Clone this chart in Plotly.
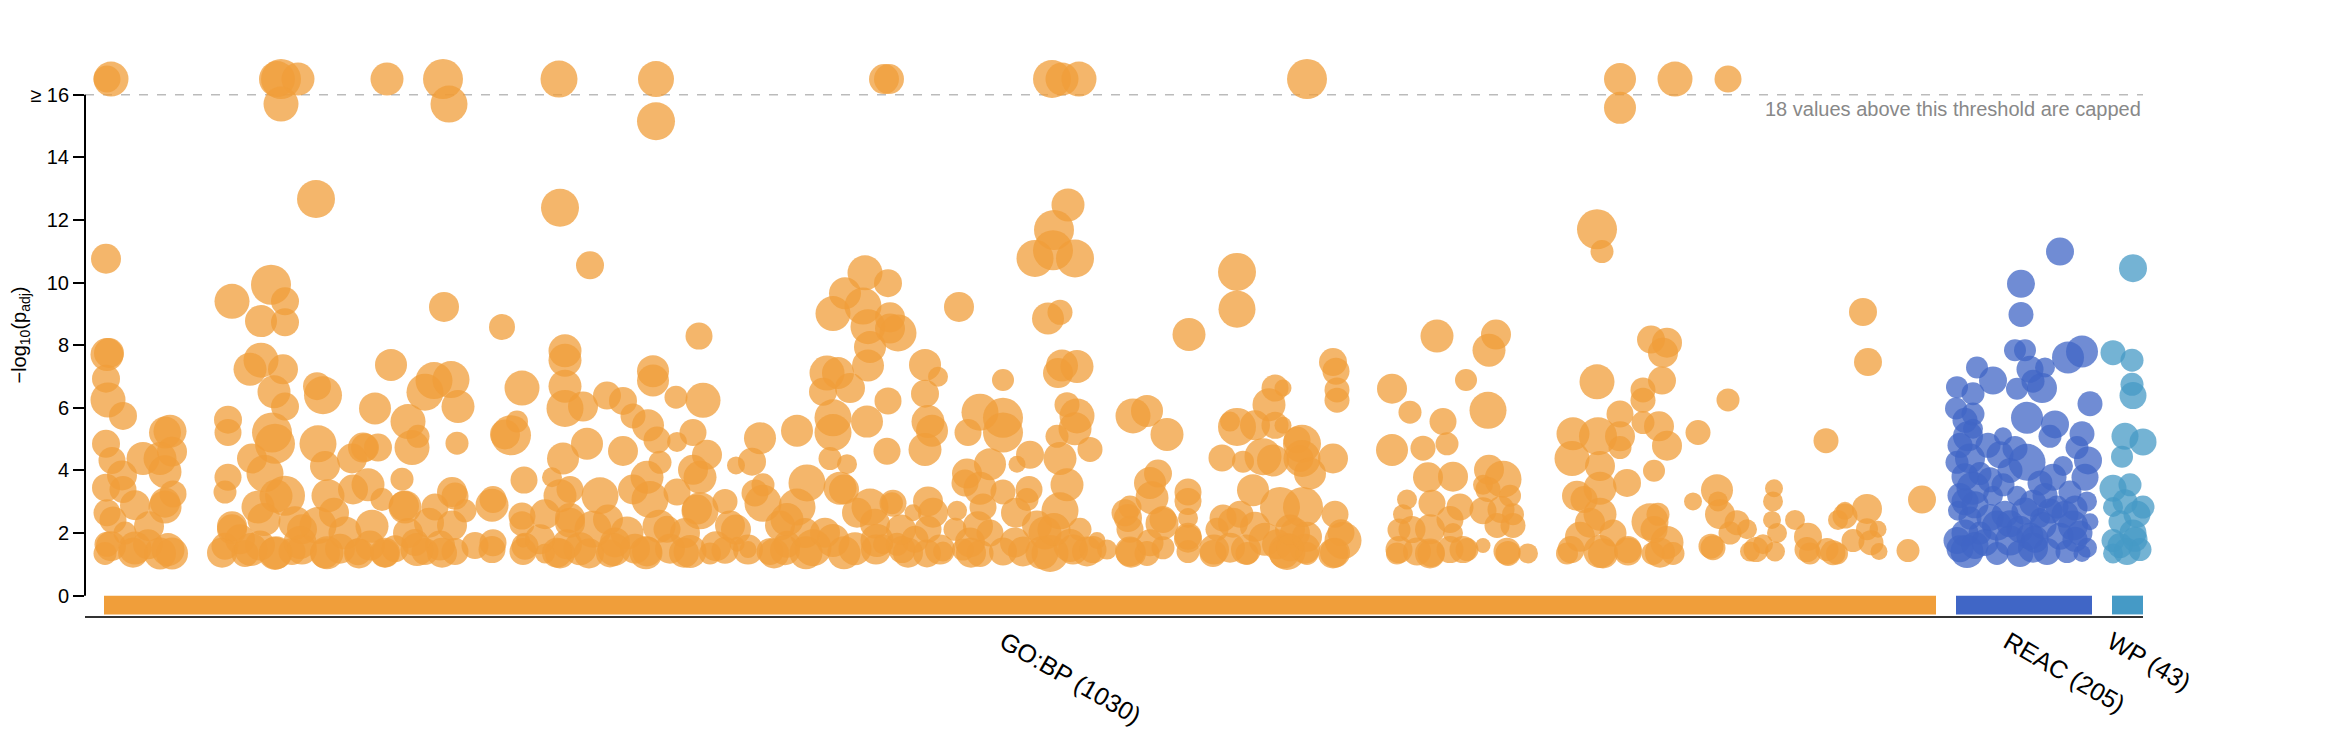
import plotly.graph_objects as go

# sources shown on the x axis, with the number of significant terms
sources = ['GO:BP', 'REAC', 'WP']
term_counts = [1030, 205, 43]
source_spans = [(19, 1851), (1871, 2007), (2027, 2058)]
source_colors = ['#f09e3a', '#4066c6', '#459ac6']

cap = 16  # -log10(p_adj) values above this are drawn at the top

# (term position, -log10(p_adj), term size) ; 16.5 = capped value
gobp_points = [
    (22, 16.5, 27), (26, 16.5, 35), (192, 16.5, 36), (196, 16.5, 40), (213, 16.5, 33), (196, 15.7, 35),
    (302, 16.5, 33), (358, 16.5, 40), (364, 15.7, 37), (231, 12.67, 38), (21, 10.76, 30), (147, 9.4, 35),
    (186, 9.93, 40), (200, 9.4, 28), (176, 8.77, 32), (200, 8.73, 28), (359, 9.22, 30), (417, 8.58, 26),
    (22, 7.7, 33), (24, 7.75, 30), (21, 6.93, 28), (23, 6.25, 35), (38, 5.74, 28), (306, 7.37, 32),
    (349, 6.87, 37), (340, 6.5, 37), (366, 6.9, 37), (373, 6.04, 33), (372, 4.87, 23), (290, 5.98, 32),
    (323, 5.56, 35), (327, 4.73, 35), (280, 4.73, 28), (232, 6.69, 28), (238, 6.4, 38), (176, 7.52, 35),
    (165, 7.23, 33), (198, 7.23, 30), (189, 6.51, 33), (200, 6.04, 28), (143, 5.62, 28), (143, 5.21, 27),
    (187, 5.21, 40), (190, 4.85, 40), (233, 4.85, 37), (80, 5.21, 32), (85, 5.25, 33), (87, 4.6, 30),
    (75, 4.38, 33), (58, 4.38, 33), (21, 4.85, 28), (27, 4.32, 27), (37, 3.84, 30), (21, 3.45, 28),
    (80, 3.96, 33), (88, 3.25, 27), (80, 2.83, 33), (50, 2.89, 30), (28, 2.42, 27), (22, 1.64, 25),
    (20, 1.35, 23), (50, 1.52, 33), (63, 1.64, 30), (75, 1.35, 32), (87, 1.35, 32), (40, 2.0, 23),
    (143, 3.78, 27), (140, 3.31, 23), (167, 4.38, 30), (180, 3.9, 37), (200, 3.19, 40), (173, 2.83, 33),
    (147, 2.12, 30), (140, 1.58, 27), (160, 1.35, 27), (190, 1.35, 33), (207, 1.41, 27), (217, 2.12, 30),
    (240, 4.14, 30), (243, 3.19, 33), (233, 2.24, 37), (240, 1.35, 30), (260, 2.0, 33), (267, 4.38, 30),
    (278, 4.73, 30), (293, 4.73, 28), (283, 3.54, 33), (273, 1.4, 27), (300, 1.35, 28), (297, 3.07, 23),
    (317, 3.72, 23), (320, 2.83, 33), (323, 2.0, 30), (340, 1.41, 27), (350, 2.83, 27), (367, 3.31, 30),
    (367, 2.24, 30), (370, 1.41, 27), (380, 2.71, 23), (407, 2.89, 33), (407, 1.47, 27), (420, 5.15, 30),
    (333, 5.09, 23), (155, 1.8, 30), (175, 1.6, 30), (215, 1.7, 33), (255, 1.5, 30), (285, 1.6, 30),
    (310, 1.5, 27), (330, 1.7, 27), (355, 1.6, 30), (390, 1.6, 27),
    (26, 1.58, 30), (48, 1.37, 30), (83, 1.47, 33), (22, 2.65, 27), (80, 2.97, 30), (38, 3.39, 27),
    (64, 2.22, 30), (137, 1.37, 30), (166, 1.47, 33), (191, 1.37, 33), (217, 1.47, 30), (242, 1.37, 33),
    (274, 1.35, 30), (300, 1.37, 30), (332, 1.47, 33), (357, 1.37, 30), (147, 2.22, 30), (179, 2.43, 33),
    (210, 2.33, 33), (249, 2.65, 30), (287, 2.22, 33), (319, 2.86, 30), (344, 2.33, 30), (370, 3.18, 27),
    (191, 3.18, 33), (268, 3.39, 30), (408, 1.69, 27), (440, 1.58, 27), (437, 2.54, 27), (408, 3.07, 27),
    (474, 16.5, 37), (571, 16.5, 36), (571, 15.15, 38), (799, 16.5, 30), (804, 16.5, 30), (475, 12.39, 38),
    (505, 10.55, 28), (614, 8.29, 27), (437, 6.63, 35), (480, 7.82, 33), (480, 7.52, 33), (480, 6.69, 33),
    (480, 5.98, 37), (498, 6.04, 30), (522, 6.39, 28), (538, 6.22, 28), (568, 7.17, 32), (568, 6.87, 32),
    (591, 6.34, 23), (618, 6.24, 35), (432, 5.56, 22), (426, 5.12, 40), (548, 5.74, 25), (563, 5.44, 32),
    (608, 5.21, 27), (592, 4.91, 20), (572, 4.97, 27), (538, 4.62, 30), (502, 4.85, 32), (478, 4.38, 32),
    (622, 4.5, 30), (615, 3.78, 33), (675, 5.03, 32), (667, 4.28, 28), (651, 4.16, 18), (712, 5.27, 32),
    (748, 5.68, 37), (742, 7.11, 35), (753, 7.11, 32), (738, 6.51, 28), (765, 6.63, 30), (748, 9.01, 35),
    (760, 9.66, 32), (780, 10.31, 35), (803, 9.98, 28), (778, 9.25, 37), (783, 8.59, 35), (785, 7.94, 32),
    (783, 7.35, 32), (805, 8.53, 30), (803, 6.22, 27), (782, 5.56, 32), (748, 5.21, 37), (802, 4.61, 27),
    (745, 4.38, 23), (762, 4.2, 20), (722, 3.6, 37), (755, 3.43, 33), (785, 2.83, 37), (808, 2.95, 27),
    (812, 1.64, 23), (792, 1.76, 33), (728, 1.53, 37), (748, 1.76, 33), (712, 2.83, 37), (685, 1.41, 27),
    (678, 2.95, 37), (678, 3.54, 23), (663, 1.47, 17), (652, 1.64, 15), (645, 2.24, 30), (640, 3.01, 25),
    (615, 2.71, 37), (605, 1.41, 33), (625, 1.35, 22), (592, 3.31, 27), (565, 3.07, 37), (575, 4.26, 23),
    (562, 3.78, 33), (562, 1.41, 30), (542, 2.0, 33), (525, 1.35, 28), (515, 3.19, 37), (508, 2.12, 37),
    (485, 2.48, 30), (475, 1.35, 30), (475, 3.19, 33), (467, 3.78, 20), (482, 1.64, 30), (460, 1.35, 20),
    (438, 1.41, 27), (438, 1.76, 14), (437, 2.3, 25), (439, 3.69, 27), (608, 4.02, 30), (582, 2.12, 27),
    (695, 2.24, 30), (702, 1.64, 27), (495, 1.5, 33), (530, 1.7, 30), (550, 1.5, 30), (585, 1.5, 30),
    (600, 2.0, 30), (640, 1.45, 27), (700, 1.45, 30), (720, 2.0, 30), (770, 1.5, 33), (790, 2.3, 30),
    (460, 2.6, 30), (455, 1.8, 30),
    (472, 1.37, 30), (504, 1.35, 30), (529, 1.47, 33), (561, 1.37, 33), (599, 1.37, 30), (631, 1.58, 30),
    (663, 1.47, 30), (689, 1.35, 30), (721, 1.37, 33), (759, 1.37, 33), (791, 1.47, 30), (485, 2.33, 30),
    (523, 2.43, 30), (574, 2.22, 33), (612, 2.75, 30), (651, 2.11, 30), (702, 2.43, 33), (740, 2.01, 30),
    (772, 2.65, 30), (759, 3.39, 30), (670, 3.28, 27), (548, 3.39, 30), (485, 3.39, 27),
    (967, 16.5, 38), (977, 16.5, 33), (994, 16.5, 35), (983, 12.48, 33), (969, 11.68, 40), (968, 11.03, 40),
    (950, 10.77, 37), (990, 10.77, 38), (1152, 10.34, 38), (1152, 9.15, 37), (874, 9.22, 30), (963, 8.85, 32),
    (975, 9.05, 25), (1104, 8.34, 33), (840, 7.37, 32), (853, 6.99, 20), (918, 6.89, 22), (977, 7.35, 32),
    (973, 7.11, 30), (992, 7.32, 33), (813, 8.39, 37), (805, 8.89, 30), (840, 6.45, 28), (843, 5.56, 33),
    (847, 5.27, 32), (840, 4.67, 33), (895, 5.86, 37), (918, 5.68, 40), (918, 5.21, 40), (883, 5.21, 27),
    (982, 6.1, 25), (992, 5.74, 35), (990, 5.33, 33), (972, 5.09, 23), (1005, 4.67, 25), (945, 4.5, 28),
    (975, 4.38, 33), (905, 4.2, 32), (882, 3.9, 30), (932, 4.2, 17), (982, 3.54, 33), (895, 3.43, 33),
    (918, 3.31, 25), (807, 2.95, 22), (843, 3.01, 30), (828, 2.65, 17), (872, 2.71, 20), (898, 2.83, 27),
    (942, 3.07, 23), (975, 2.71, 37), (1048, 5.74, 35), (1062, 5.9, 32), (1082, 5.15, 33), (1073, 3.9, 28),
    (1065, 3.6, 32), (1067, 3.13, 33), (1045, 2.83, 23), (1043, 2.48, 28), (1077, 2.3, 33), (1103, 3.31, 27),
    (1103, 3.01, 27), (1103, 2.48, 20), (1103, 1.82, 28), (1152, 5.39, 38), (1145, 5.56, 20), (1170, 5.44, 30),
    (1190, 5.44, 27), (1184, 6.1, 33), (1190, 6.63, 27), (1137, 4.4, 27), (1158, 4.28, 22), (1178, 4.44, 37),
    (1188, 4.32, 32), (1212, 4.97, 27), (1215, 4.38, 27), (1168, 3.37, 32), (1155, 2.6, 27), (1138, 2.48, 27),
    (1195, 2.83, 40), (1202, 1.41, 37), (1192, 1.64, 30), (1162, 1.35, 23), (1145, 1.53, 30), (1128, 1.35, 27),
    (1132, 2.12, 23), (1103, 1.41, 23), (1078, 1.53, 23), (1062, 1.35, 25), (1045, 1.41, 30), (1045, 2.12, 27),
    (1022, 1.47, 20), (1002, 1.41, 30), (995, 2.12, 23), (965, 1.35, 37), (938, 1.41, 30), (918, 1.41, 28),
    (895, 1.35, 27), (878, 1.47, 22), (858, 1.41, 20), (842, 1.35, 28), (817, 1.47, 27), (798, 1.64, 20),
    (843, 2.12, 27), (870, 2.12, 23), (905, 2.0, 27), (952, 2.24, 30), (1012, 1.76, 17), (830, 1.8, 27),
    (885, 1.7, 30), (930, 1.7, 30), (960, 2.0, 33), (985, 1.6, 33), (1180, 1.8, 33), (1210, 2.0, 30),
    (1170, 2.2, 30), (1220, 1.5, 30),
    (823, 1.37, 30), (855, 1.47, 30), (886, 1.37, 30), (957, 1.37, 33), (988, 1.47, 30), (816, 2.11, 30),
    (848, 2.65, 30), (893, 2.22, 30), (931, 2.65, 30), (969, 2.11, 33), (944, 3.39, 27), (880, 3.6, 27),
    (1008, 1.47, 27), (1046, 1.37, 30), (1065, 1.69, 27), (1103, 1.9, 27), (1129, 1.47, 30), (1161, 1.47, 30),
    (1199, 1.35, 30), (1250, 1.37, 30), (1256, 2.01, 27), (1205, 2.11, 30), (1148, 2.33, 30), (1078, 2.43, 27),
    (1040, 2.65, 27),
    (1222, 16.5, 40), (1535, 16.5, 32), (1535, 15.58, 32), (1590, 16.5, 35), (1512, 11.7, 40), (1517, 10.99, 23),
    (1352, 8.29, 33), (1411, 8.34, 30), (1404, 7.84, 33), (1248, 7.46, 28), (1251, 7.17, 27), (1252, 6.57, 25),
    (1252, 6.24, 25), (1198, 6.63, 17), (1307, 6.61, 30), (1325, 5.86, 23), (1358, 5.56, 27), (1381, 6.89, 22),
    (1403, 5.92, 37), (1307, 4.65, 32), (1338, 4.71, 25), (1362, 4.85, 23), (1512, 6.83, 35), (1566, 8.18, 28),
    (1582, 8.08, 30), (1578, 7.76, 30), (1577, 6.87, 28), (1558, 6.57, 25), (1558, 6.24, 25), (1535, 5.8, 27),
    (1558, 5.53, 23), (1574, 5.41, 30), (1582, 4.79, 30), (1569, 3.99, 22), (1613, 5.21, 25), (1608, 3.01, 18),
    (1488, 5.17, 33), (1513, 5.09, 38), (1535, 5.09, 30), (1535, 4.73, 23), (1487, 4.38, 35), (1515, 4.14, 30),
    (1542, 3.6, 28), (1492, 3.19, 30), (1515, 3.43, 33), (1515, 2.6, 33), (1565, 2.36, 37), (1573, 2.6, 23),
    (1582, 1.7, 33), (1588, 1.35, 23), (1568, 1.35, 23), (1543, 1.41, 28), (1515, 1.41, 33), (1495, 1.88, 30),
    (1482, 1.35, 22), (1528, 2.0, 27), (1217, 4.85, 38), (1217, 4.38, 37), (1225, 3.9, 32), (1248, 4.38, 30),
    (1198, 5.44, 17), (1218, 2.83, 40), (1250, 2.6, 27), (1258, 1.76, 37), (1248, 1.35, 30), (1222, 1.35, 23),
    (1205, 1.53, 27), (1222, 1.88, 30), (1343, 3.78, 30), (1368, 3.8, 30), (1404, 4.02, 30), (1418, 3.72, 37),
    (1322, 3.07, 20), (1318, 2.6, 20), (1347, 2.95, 27), (1375, 2.83, 27), (1398, 3.54, 20), (1398, 2.71, 27),
    (1425, 3.19, 22), (1428, 2.6, 22), (1428, 2.24, 25), (1412, 2.24, 25), (1314, 2.1, 23), (1345, 2.12, 30),
    (1368, 2.0, 20), (1312, 1.35, 22), (1332, 1.41, 28), (1345, 1.35, 30), (1365, 1.47, 27), (1382, 1.47, 23),
    (1398, 1.6, 15), (1423, 1.35, 25), (1443, 1.35, 20),
    (1314, 1.47, 27), (1346, 1.35, 27), (1378, 1.47, 27), (1422, 1.42, 27), (1327, 2.11, 27), (1365, 2.43, 27),
    (1416, 2.75, 27), (1403, 3.39, 25), (1486, 1.47, 27), (1518, 1.35, 30), (1543, 1.47, 27), (1575, 1.37, 30),
    (1505, 2.33, 30), (1569, 2.11, 27), (1499, 3.07, 27),
    (1643, 16.5, 27), (1778, 9.06, 28), (1783, 7.46, 28), (1643, 6.25, 23), (1741, 4.95, 25), (1632, 3.37, 32),
    (1633, 3.01, 20), (1635, 2.6, 30), (1628, 1.53, 25), (1645, 2.0, 23), (1662, 2.12, 20), (1665, 1.41, 20),
    (1689, 3.43, 18), (1688, 3.01, 20), (1687, 2.42, 18), (1692, 2.0, 20), (1690, 1.41, 20), (1678, 1.64, 20),
    (1710, 2.42, 20), (1723, 1.88, 28), (1725, 1.35, 22), (1742, 1.47, 23), (1752, 1.35, 22), (1760, 2.71, 18),
    (1753, 2.42, 20), (1768, 1.76, 23), (1782, 2.77, 30), (1782, 2.12, 22), (1793, 2.12, 17), (1794, 1.41, 17),
    (1837, 3.07, 28), (1823, 1.44, 23), (1626, 1.58, 25), (1671, 1.47, 25), (1722, 1.47, 25), (1748, 1.37, 25),
    (1786, 1.69, 25), (1652, 2.33, 25), (1760, 2.54, 25),
]

reac_points = [
    (1975, 10.99, 28), (1936, 9.96, 28), (1936, 8.98, 25), (1930, 7.84, 22), (1940, 7.84, 22), (1983, 7.61, 32),
    (1997, 7.8, 32), (1892, 7.29, 22), (1908, 6.87, 28), (1945, 7.23, 27), (1960, 7.29, 20), (1872, 6.66, 22),
    (1888, 6.45, 23), (1932, 6.61, 22), (1957, 6.63, 30), (1948, 6.85, 23), (1871, 5.98, 22), (1888, 5.8, 23),
    (2005, 6.13, 25), (1942, 5.68, 32), (1970, 5.47, 28), (1997, 5.17, 25), (1918, 5.09, 18), (1883, 5.09, 30),
    (1942, 4.26, 37), (1965, 5.09, 23), (1915, 4.5, 27), (1872, 4.26, 23), (1885, 4.38, 30), (1992, 4.73, 23),
    (2003, 4.32, 28), (2000, 3.78, 27), (1968, 3.78, 27), (1918, 3.54, 23), (1888, 3.43, 33), (1873, 2.71, 20),
    (1908, 3.19, 20), (1948, 2.95, 27), (1972, 2.83, 23), (2002, 3.01, 20), (2005, 2.36, 17), (1912, 2.24, 30),
    (1935, 2.12, 27), (1958, 2.24, 27), (1988, 2.24, 30), (1872, 1.76, 27), (1882, 1.41, 33), (1895, 2.0, 23),
    (1912, 1.35, 23), (1935, 1.35, 27), (1962, 1.41, 27), (1948, 1.53, 30), (1982, 1.41, 23), (1997, 1.35, 17),
    (2002, 1.53, 20), (1925, 1.76, 30), (1885, 2.48, 23), (1932, 3.19, 20), (1978, 4.14, 20), (1888, 5.33, 20),
    (1985, 3.31, 23), (1895, 3.9, 23), (1955, 2.48, 20), (1875, 3.2, 25), (1880, 3.8, 27), (1890, 2.9, 27),
    (1900, 1.7, 27), (1920, 2.6, 27), (1945, 1.9, 27), (1965, 2.7, 25), (1975, 1.9, 27), (1990, 1.8, 25),
    (1880, 2.0, 27), (1903, 4.8, 25), (1925, 4.0, 25), (1875, 1.5, 27), (1890, 1.6, 27), (1905, 2.5, 27),
    (1925, 2.3, 27), (1940, 2.7, 27), (1950, 1.8, 27), (1960, 3.2, 25), (1980, 2.6, 27), (1995, 2.0, 25),
    (1880, 3.0, 27), (1875, 4.8, 25), (1880, 5.6, 25), (1905, 3.7, 25), (1930, 4.7, 25), (1955, 3.6, 25),
    (1990, 2.8, 25),
]

wp_points = [
    (2048, 10.46, 28), (2028, 7.76, 25), (2047, 7.52, 23), (2047, 6.75, 23), (2048, 6.39, 27), (2040, 5.09, 27),
    (2058, 4.91, 27), (2037, 4.44, 22), (2028, 3.43, 27), (2045, 3.54, 23), (2028, 2.83, 20), (2052, 2.6, 27),
    (2035, 2.36, 23), (2028, 1.76, 23), (2048, 2.0, 27), (2042, 1.41, 27), (2028, 1.35, 20), (2055, 1.47, 23),
    (2058, 2.83, 23), (2040, 3.0, 25), (2050, 1.8, 25), (2035, 1.6, 25),
]

font = 'Helvetica Neue, Liberation Sans, Arial, sans-serif'

fig = go.Figure()

# one scatter trace per source
for pts, color in zip([gobp_points, reac_points, wp_points], source_colors):
    xs = [p[0] for p in pts]
    ys = [p[1] for p in pts]
    ss = [p[2] for p in pts]
    fig.add_trace(go.Scatter(x=xs, y=ys, mode='markers', cliponaxis=False, hoverinfo='skip',
                             marker=dict(color=color, size=ss, opacity=0.75, line=dict(width=0))))

# coloured bars below zero marking each source range
for (x0, x1), color in zip(source_spans, source_colors):
    fig.add_shape(type='rect', x0=x0, x1=x1, y0=-0.6, y1=0, xref='x', yref='y',
                  fillcolor=color, line=dict(width=0), layer='below')

# y axis line only from 0 to the cap
fig.add_shape(type='line', x0=0, x1=0, y0=0, y1=cap, xref='paper', yref='y',
              line=dict(color='black', width=2))

# dashed threshold line
fig.add_shape(type='line', x0=0, x1=1, y0=cap, y1=cap, xref='paper', yref='y',
              line=dict(color='#bbbbbb', width=1.5, dash='dash'), layer='below')

n_capped = sum(1 for p in gobp_points + reac_points + wp_points if p[1] > cap)
fig.add_annotation(x=1, y=cap, xref='paper', yref='y', xanchor='right', yanchor='top', yshift=-1,
                   text=f'{n_capped} values above this threshold are capped', showarrow=False,
                   font=dict(family=font, size=20, color='#888888'))

tick_centers = [(a + b) / 2 for a, b in source_spans]
tick_labels = [f'{s} ({n})' for s, n in zip(sources, term_counts)]

fig.update_layout(
    width=2330, height=736,
    margin=dict(l=77, r=195, t=46, b=128),
    plot_bgcolor='white', paper_bgcolor='white',
    showlegend=False,
    font=dict(family=font, color='black'),
    xaxis=dict(range=[0, 2058], showgrid=False, zeroline=False, showline=True, automargin=False,
               linecolor='#333333', linewidth=2, tickvals=tick_centers, ticktext=tick_labels,
               tickangle=30, ticks='', ticklabelshift=-16, tickfont=dict(size=25)),
    yaxis=dict(range=[-0.65, 17.3], showgrid=False, zeroline=False, showline=False, automargin=False,
               tickvals=list(range(0, cap + 1, 2)),
               ticktext=[str(v) for v in range(0, cap, 2)] + ['\u2265 16'],
               ticks='outside', ticklen=11, tickwidth=2, tickcolor='black',
               tickfont=dict(size=20),
               title=dict(text='\u2212log<sub>10</sub>(p<sub>adj</sub>)', font=dict(size=20), standoff=6)),
)

fig.write_html("out.html")
